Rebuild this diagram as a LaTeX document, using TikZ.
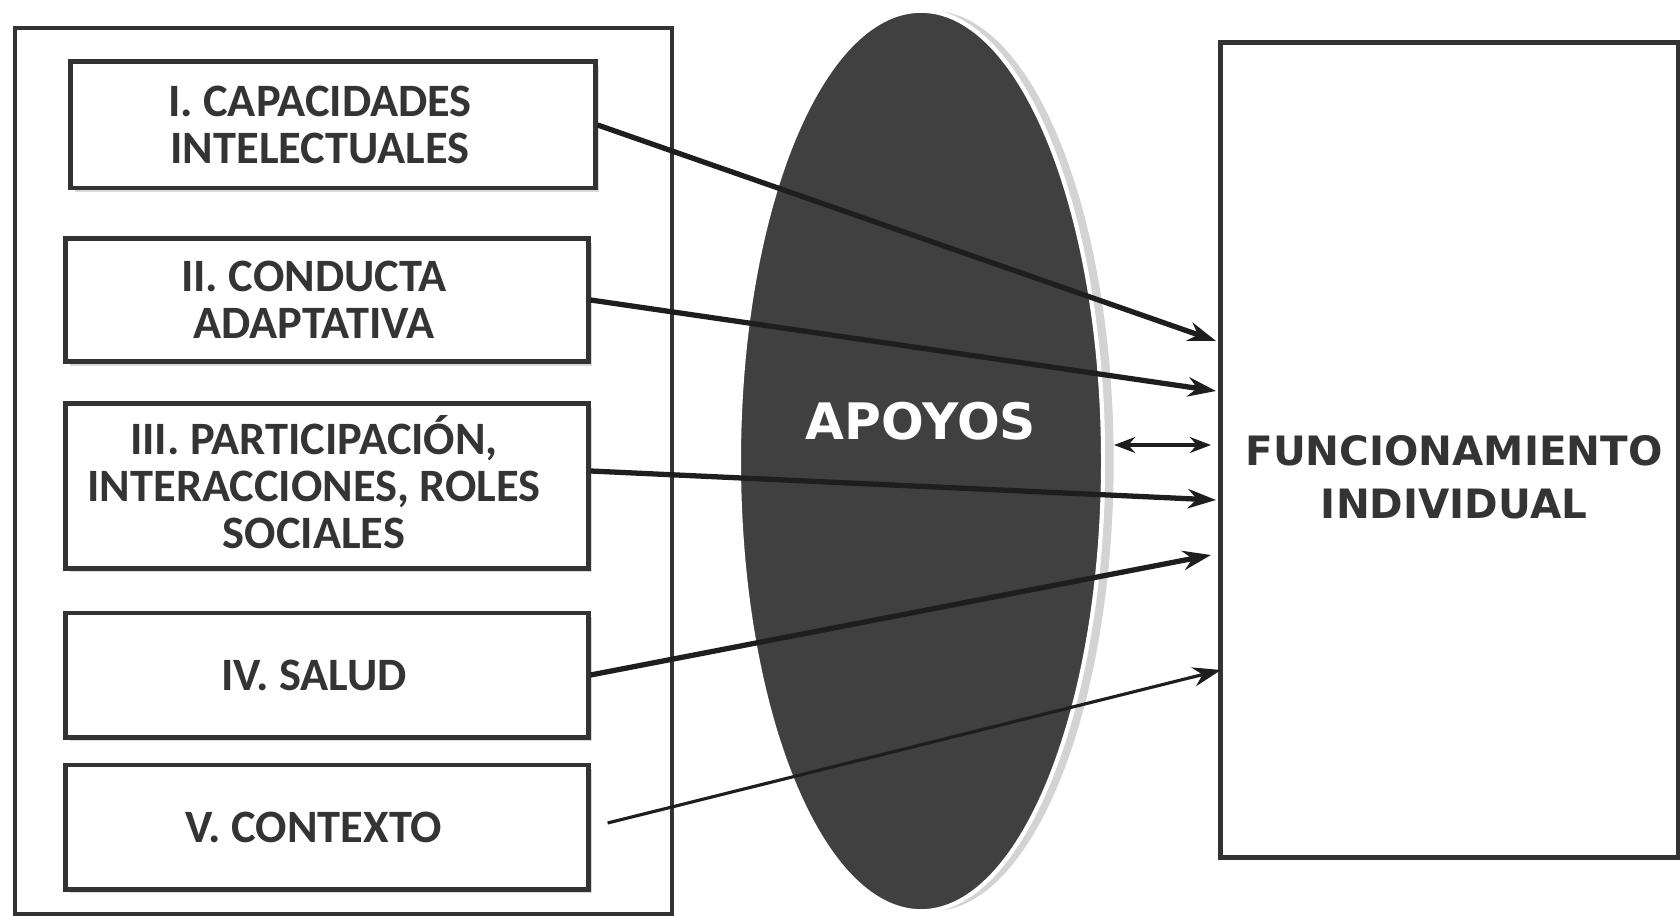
\documentclass[tikz,border=0pt]{standalone}
\usepackage{fontspec}
\setmainfont{Carlito}
\newfontfamily\widesans{DejaVu Sans}
\usetikzlibrary{arrows.meta,shadows,calc,shapes.geometric}

\definecolor{linegray}{HTML}{333333}
\definecolor{arrowgray}{HTML}{1E1E1E}
\definecolor{textgray}{HTML}{343434}
\definecolor{ovalgray}{HTML}{404040}

\tikzset{
  dimbox/.style={draw=linegray, line width=1.4pt, fill=white, inner sep=0pt,
    drop shadow={shadow xshift=1.2pt, shadow yshift=-1.2pt, opacity=0.3}},
  dimtext/.style={align=center, inner sep=0pt, xshift=-0.13cm, text=textgray,
    font=\fontsize{13.2}{13.4}\selectfont\bfseries},
  link/.style={draw=arrowgray, line width=1.5pt, -{Stealth[length=8pt,width=5.5pt]}},
}

\begin{document}
\begin{tikzpicture}[x=0.01cm, y=-0.01cm]
\useasboundingbox (0,0) rectangle (1680,916);

% left frame with the five dimensions
\node[draw=linegray, line width=1.2pt, minimum width=6.57cm, minimum height=8.86cm] (frame) at (343.5,471) {};
\node[dimbox, minimum width=5.24cm, minimum height=1.26cm,
      label={[dimtext]center:{I. CAPACIDADES\\INTELECTUALES}}] (cap) at (333,125) {};
\node[dimbox, minimum width=5.22cm, minimum height=1.23cm,
      label={[dimtext]center:{II. CONDUCTA\\ADAPTATIVA}}] (cond) at (327,300) {};
\node[dimbox, minimum width=5.22cm, minimum height=1.64cm,
      label={[dimtext, yshift=0.04cm]center:{III. PARTICIPACIÓN,\\INTERACCIONES, ROLES\\SOCIALES}}] (part) at (327,486) {};
\node[dimbox, minimum width=5.22cm, minimum height=1.24cm,
      label={[dimtext]center:{IV. SALUD}}] (salud) at (327,675) {};
\node[dimbox, minimum width=5.22cm, minimum height=1.24cm,
      label={[dimtext]center:{V. CONTEXTO}}] (ctx) at (327,827) {};

% supports
\node[ellipse, fill=ovalgray, draw=white, line width=1.2pt, inner sep=0pt,
      minimum width=3.64cm, minimum height=9cm,
      drop shadow={shadow xshift=3pt, shadow yshift=0pt, opacity=0.35}] (oval) at (921,461) {};
\node[text=white, font=\widesans\fontsize{14.3}{16}\selectfont\bfseries] (apoyos) at ($(oval.center)+(0,-40)$) {APOYOS};

% individual functioning
\node[draw=linegray, line width=1.4pt, minimum width=4.57cm, minimum height=8.14cm] (funcbox) at (1449.5,450) {};
\node[align=center, text=textgray, font=\widesans\fontsize{11.5}{15}\selectfont\bfseries] (func) at (1454,477) {FUNCIONAMIENTO\\INDIVIDUAL};

\coordinate (t1) at (1216,341);
\coordinate (t2) at (1216,391);
\coordinate (s3) at (1114,445);
\coordinate (t3) at (1211,445);
\coordinate (t4) at (1216,500);
\coordinate (t5) at (1211,555);
\coordinate (t6) at (1221,670);

\draw[link] (cap.east) -- (t1);
\draw[link] (cond.east) -- (t2);
\draw[link, line width=1pt, {Stealth[length=6pt,width=4.5pt]}-{Stealth[length=6pt,width=4.5pt]}] (s3) -- (t3);
\draw[link] ($(part.east)+(0,-15)$) -- (t4);
\draw[link] (salud.east) -- (t5);
\draw[link, line width=0.9pt] ($(ctx.east)+(17,-4)$) -- (t6);
\end{tikzpicture}
\end{document}
